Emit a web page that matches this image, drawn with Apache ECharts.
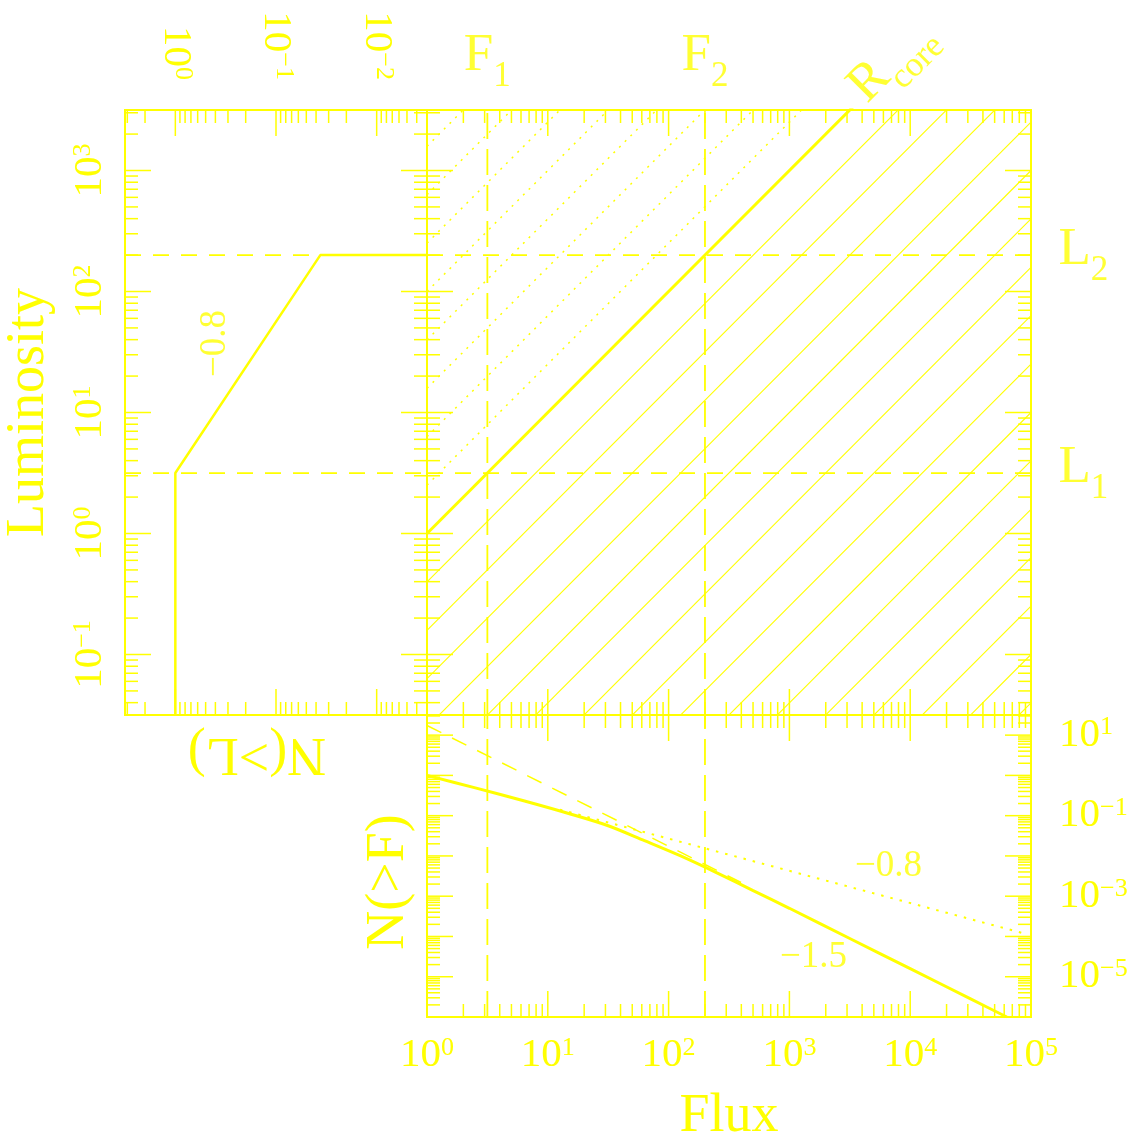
<!DOCTYPE html>
<html>
<head>
<meta charset="utf-8">
<script src="https://cdn.jsdelivr.net/npm/echarts@6/dist/echarts.min.js"></script>
<style>
html, body { margin: 0; background: #fff; }
#chart { width: 1146px; height: 1141px; }
</style>
</head>
<body>
<div id="chart"></div>
<script>
var YEL = '#ffff00';
var FONT = 'Liberation Serif';

// 坐标范围 (log10)
var nlRange = [-2.5, 0.5];     // N(>L)
var lumRange = [-1.5, 3.5];    // Luminosity
var fluxRange = [0, 5];        // Flux
var nfRange = [-6, 1.5];       // N(>F)

// 刻度标签 (指数)
var nlLabels = [0, -1, -2];
var lumLabels = [-1, 0, 1, 2, 3];
var fluxLabels = [0, 1, 2, 3, 4, 5];
var nfLabels = [1, -1, -3, -5];

// 阈值
var L1 = 3.16, L2 = 200;
var F1 = 3.16, F2 = 200;

// 左图 N(>L)
var nlCount = [1, 1, 0.0363, 0.00316];
var nlLum = [0.0316, 3.16, 200, 200];

// 主图斜线 log F - log L (dex)
var solidOffsets = [0.4, 0.8, 1.2, 1.6, 2.0, 2.4, 2.8, 3.2, 3.6, 4.0, 4.4, 4.8, 5.2, 5.6, 6.0, 6.4];
var dottedOffsets = [-0.4, -0.8, -1.2, -1.6, -2.0, -2.4, -2.8, -3.2];

// 下图 N(>F) (log10)
var nfLogF = [0, 0.4, 0.8, 1.2, 1.5, 1.8, 2.1, 2.4, 2.7, 3.0, 3.5, 4.0, 4.5, 4.8];
var nfLogN = [0, -0.31, -0.63, -0.97, -1.25, -1.62, -2.0, -2.42, -2.86, -3.3, -4.05, -4.8, -5.55, -6.0];
var euclidLogF = [0, 2.6];
var euclidLogN = [1.24, -2.66];
var lumfLogF = [1.1, 4.95];
var lumfLogN = [-0.85, -3.93];

function p10(v) { return Math.pow(10, v); }

function expOf(v) {
    var e = Math.log10(v);
    var r = Math.round(e);
    return Math.abs(e - r) < 1e-6 ? r : null;
}
function supText(e) { return e < 0 ? '\u2212' + (-e) : String(e); }

var tickRich = {
    b: { fontFamily: FONT, fontSize: 41, lineHeight: 41, color: YEL },
    s: { fontFamily: FONT, fontSize: 26, lineHeight: 26, verticalAlign: 'top', color: YEL }
};
var subRich = {
    m: { fontFamily: FONT, fontSize: 53, lineHeight: 76, color: YEL },
    d: { fontFamily: FONT, fontSize: 35, lineHeight: 34, verticalAlign: 'bottom', color: YEL }
};

function powLabel(list) {
    return function (v) {
        var e = expOf(v);
        if (e === null || list.indexOf(e) < 0) return '';
        return '{b|10}{s|' + supText(e) + '}';
    };
}

function axisLabelOf(list, extra) {
    var o = {
        show: true, color: YEL, fontFamily: FONT, fontSize: 41,
        showMinLabel: true, showMaxLabel: true,
        formatter: powLabel(list), rich: tickRich
    };
    for (var k in extra) o[k] = extra[k];
    return o;
}

function logAxis(grid, range, extra) {
    var o = {
        gridIndex: grid, type: 'log', logBase: 10,
        min: p10(range[0]), max: p10(range[1]),
        axisLine: { show: false }, axisTick: { show: false },
        splitLine: { show: false }, minorTick: { show: false },
        axisLabel: { show: false }
    };
    for (var k in extra) o[k] = extra[k];
    return o;
}

var nameStyle = { color: YEL, fontFamily: FONT, fontSize: 54 };

// 刻度 (内侧, 四边)
function decadeTicks(lo, hi) {
    var out = [];
    for (var e = Math.floor(lo); e <= Math.ceil(hi); e++) {
        for (var m = 1; m <= 9; m++) {
            var lv = e + Math.log10(m);
            if (lv >= lo - 1e-9 && lv <= hi + 1e-9) out.push([p10(lv), m === 1 ? 1 : 0]);
        }
    }
    return out;
}
function tickSeries(xi, yi, xr, yr) {
    var d = [];
    var xm = p10((xr[0] + xr[1]) / 2), ym = p10((yr[0] + yr[1]) / 2);
    decadeTicks(xr[0], xr[1]).forEach(function (t) { d.push([t[0], ym, 0, t[1]]); });
    decadeTicks(yr[0], yr[1]).forEach(function (t) { d.push([xm, t[0], 1, t[1]]); });
    return {
        type: 'custom', xAxisIndex: xi, yAxisIndex: yi, data: d, silent: true, z: 4,
        renderItem: function (params, api) {
            var cs = params.coordSys;
            var p = api.coord([api.value(0), api.value(1)]);
            var len = api.value(3) ? 26 : 13;
            var st = { stroke: YEL, lineWidth: 1.5 };
            if (api.value(2) === 0) {
                return { type: 'group', children: [
                    { type: 'line', shape: { x1: p[0], y1: cs.y, x2: p[0], y2: cs.y + len }, style: st },
                    { type: 'line', shape: { x1: p[0], y1: cs.y + cs.height, x2: p[0], y2: cs.y + cs.height - len }, style: st }
                ] };
            }
            return { type: 'group', children: [
                { type: 'line', shape: { x1: cs.x, y1: p[1], x2: cs.x + len, y2: p[1] }, style: st },
                { type: 'line', shape: { x1: cs.x + cs.width, y1: p[1], x2: cs.x + cs.width - len, y2: p[1] }, style: st }
            ] };
        }
    };
}

function line(xi, yi, data, width, type, extra) {
    var o = {
        type: 'line', xAxisIndex: xi, yAxisIndex: yi, data: data,
        symbol: 'none', silent: true, clip: true, z: 2,
        lineStyle: { color: YEL, width: width, type: type || 'solid', cap: 'butt' }
    };
    for (var k in extra) o[k] = extra[k];
    return o;
}

function textMark(xi, yi, pt, label) {
    var lb = { show: true, color: YEL, fontFamily: FONT };
    for (var k in label) lb[k] = label[k];
    return {
        type: 'scatter', xAxisIndex: xi, yAxisIndex: yi, data: [pt],
        symbolSize: 1, itemStyle: { color: 'rgba(0,0,0,0)' },
        silent: true, clip: false, z: 5, label: lb
    };
}

var dashH = [16, 12], dashV = [26, 10];

var series = [];
series.push(tickSeries(0, 0, nlRange, lumRange));
series.push(tickSeries(2, 1, fluxRange, lumRange));
series.push(tickSeries(3, 2, fluxRange, nfRange));

// 左图
[L1, L2].forEach(function (l) {
    series.push(line(0, 0, [[p10(nlRange[1]), l], [p10(nlRange[0]), l]], 1.8, dashH));
});
series.push(line(0, 0, nlCount.map(function (n, i) { return [n, nlLum[i]]; }), 2.5, 'solid', { z: 3 }));

// 主图
[L1, L2].forEach(function (l) {
    series.push(line(2, 1, [[p10(fluxRange[0]), l], [p10(fluxRange[1]), l]], 1.8, dashH));
});
[F1, F2].forEach(function (f) {
    series.push(line(2, 1, [[f, p10(lumRange[0])], [f, p10(lumRange[1])]], 1.8, dashV));
    series.push(line(3, 2, [[f, p10(nfRange[0])], [f, p10(nfRange[1])]], 1.8, dashV));
});
solidOffsets.forEach(function (o) {
    series.push(line(2, 1, [[1, p10(-o)], [1e5, p10(5 - o)]], 1.1, 'solid'));
});
dottedOffsets.forEach(function (o) {
    series.push(line(2, 1, [[1, p10(-o)], [1e5, p10(5 - o)]], 1.5, [2, 6]));
});
series.push(line(2, 1, [[1, 1], [1e5, 1e5]], 3, 'solid', { z: 3 }));

// 下图
series.push(line(3, 2, nfLogF.map(function (f, i) { return [p10(f), p10(nfLogN[i])]; }), 3, 'solid', { smooth: 0.3, z: 3 }));
series.push(line(3, 2, euclidLogF.map(function (f, i) { return [p10(f), p10(euclidLogN[i])]; }), 1.5, [16, 12]));
series.push(line(3, 2, lumfLogF.map(function (f, i) { return [p10(f), p10(lumfLogN[i])]; }), 2, [2.5, 7]));

// 文字
series.push(textMark(2, 1, [F1, p10(lumRange[1])], { position: 'top', distance: 15, formatter: '{m|F}{d|1}', rich: subRich }));
series.push(textMark(2, 1, [F2, p10(lumRange[1])], { position: 'top', distance: 15, formatter: '{m|F}{d|2}', rich: subRich }));
series.push(textMark(2, 1, [p10(fluxRange[1]), L1], { position: 'right', distance: 27, offset: [0, -5], formatter: '{m|L}{d|1}', rich: subRich }));
series.push(textMark(2, 1, [p10(fluxRange[1]), L2], { position: 'right', distance: 27, offset: [0, -5], formatter: '{m|L}{d|2}', rich: subRich }));
series.push(textMark(2, 1, [p10(3.56), p10(3.63)], { position: 'inside', align: 'left', verticalAlign: 'middle', rotate: 45, formatter: '{m|R}{d|core}', rich: subRich }));
series.push(textMark(0, 0, [p10(-0.4), p10(1.57)], { position: 'inside', rotate: 90, fontSize: 37, formatter: '\u22120.8' }));
series.push(textMark(3, 2, [p10(3.82), p10(-2.26)], { position: 'inside', fontSize: 37, formatter: '\u22120.8' }));
series.push(textMark(3, 2, [p10(3.2), p10(-4.52)], { position: 'inside', fontSize: 37, formatter: '\u22121.5' }));

var gridBase = { show: true, borderColor: YEL, borderWidth: 2, backgroundColor: 'transparent', containLabel: false, outerBoundsMode: 'none' };
function gridOf(l, t, w, h) {
    var g = { left: l, top: t, width: w, height: h };
    for (var k in gridBase) g[k] = gridBase[k];
    return g;
}

var option = {
    animation: false,
    backgroundColor: '#ffffff',
    textStyle: { fontFamily: FONT, color: YEL },
    grid: [gridOf(125, 110, 302, 605), gridOf(427, 110, 604, 605), gridOf(427, 715, 604, 302)],
    xAxis: [
        logAxis(0, nlRange, { position: 'top', inverse: true, axisLabel: axisLabelOf(nlLabels, { rotate: 90, margin: 30 }) }),
        logAxis(0, nlRange, { position: 'bottom', inverse: true, name: 'N(>L)', nameLocation: 'middle', nameRotate: 180, nameGap: 11,
            nameTextStyle: { color: YEL, fontFamily: FONT, fontSize: 54, padding: [0, 0, 0, 38] } }),
        logAxis(1, fluxRange, { position: 'bottom' }),
        logAxis(2, fluxRange, { position: 'bottom', axisLabel: axisLabelOf(fluxLabels, { margin: 18 }),
            name: 'Flux', nameLocation: 'middle', nameGap: 73, nameTextStyle: nameStyle })
    ],
    yAxis: [
        logAxis(0, lumRange, { position: 'left', axisLabel: axisLabelOf(lumLabels, { rotate: 90, margin: 14 }),
            name: 'Luminosity', nameLocation: 'middle', nameRotate: 90, nameGap: 69, nameTextStyle: nameStyle }),
        logAxis(1, lumRange, { position: 'left' }),
        logAxis(2, nfRange, { position: 'right', axisLabel: axisLabelOf(nfLabels, { margin: 28 }) }),
        logAxis(2, nfRange, { position: 'left', name: 'N(>F)', nameLocation: 'middle', nameRotate: 90, nameGap: 11,
            nameTextStyle: { color: YEL, fontFamily: FONT, fontSize: 54, padding: [0, 32, 0, 0] } })
    ],
    series: series
};

var myChart = echarts.init(document.getElementById('chart'));
option && myChart.setOption(option);
window.addEventListener('resize', myChart.resize);
</script>
</body>
</html>
